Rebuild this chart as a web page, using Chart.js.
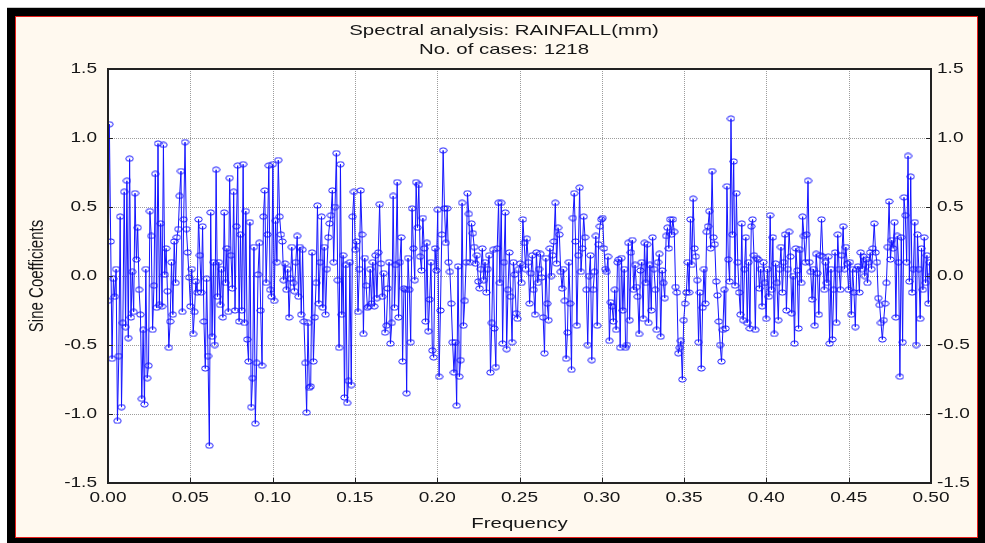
<!DOCTYPE html>
<html>
<head>
<meta charset="utf-8">
<script src="https://cdn.jsdelivr.net/npm/chart.js@4.4.1/dist/chart.umd.min.js"></script>
<style>
html, body { margin: 0; padding: 0; background: #ffffff; }
#page { position: relative; width: 985px; height: 543px; overflow: hidden; }
#topline { position: absolute; left: 7px; top: 7px; width: 978px; height: 1px; background: #c8c8c8; }
#frame { position: absolute; left: 7px; top: 8px; width: 978px; height: 535px; background: #000; }
#panel { position: absolute; left: 15px; top: 16px; width: 963px; height: 522px; box-sizing: border-box; border: 1px solid #e8201c; background: #fff9ef; }
#wrap { position: absolute; left: 0; top: 0; width: 985px; height: 543px; }
</style>
</head>
<body>
<div id="page">
  <div id="topline"></div>
  <div id="frame"></div>
  <div id="panel"></div>
  <div id="wrap"><canvas id="c"></canvas></div>
</div>
<script>
// ---------------- data ----------------
const chartTitle = ['Spectral analysis: RAINFALL(mm)', 'No. of cases: 1218'];
const xAxisTitle = 'Frequency';
const yAxisTitle = 'Sine Coefficients';
const numberOfCases = 1218;
const xTickValues = [0.00, 0.05, 0.10, 0.15, 0.20, 0.25, 0.30, 0.35, 0.40, 0.45, 0.50];
const yTickValues = [-1.5, -1.0, -0.5, 0.0, 0.5, 1.0, 1.5];

// sine coefficients, one band of frequencies per array (0.05 wide)
const sineBand1 = [-0.18, 1.10, 0.25, -0.60, -0.02, -0.15, 0.05, -1.05, -0.58, 0.43,
  -0.95, -0.34, 0.61, -0.37, 0.69, -0.45, 0.85, -0.30, 0.03, -0.26,
  0.60, 0.12, 0.35, -0.10, -0.28, -0.89, -0.39, -0.93, 0.05, -0.74,
  -0.65, 0.47, 0.29, -0.39, -0.07, 0.74, -0.23, 0.96, -0.21, 0.38,
  -0.22, 0.95, 0.01, 0.20, -0.11, -0.52, -0.33, 0.10, -0.28, 0.25,
  -0.05, 0.28, 0.34, 0.58, 0.76, -0.26, 0.41, 0.97, 0.34, 0.17,
  -0.01];
const sineBand2 = [-0.22, 0.05, -0.42, -0.26, -0.04, -0.12, 0.41, 0.15, -0.12, 0.36,
  -0.33, -0.67, -0.02, -0.58, -1.23, 0.46, -0.44, 0.10, -0.50, 0.77,
  -0.15, 0.10, -0.21, 0.05, -0.30, 0.46, -0.05, 0.20, -0.26, 0.71,
  0.15, -0.09, 0.61, -0.25, 0.36, 0.80, -0.33, 0.30, -0.25, 0.81,
  -0.34, 0.47, -0.46, -0.62, 0.39, -0.95, -0.74, 0.21, -1.07, -0.63,
  0.01, 0.24, -0.25, -0.65, 0.43, 0.62, -0.05, 0.30, 0.80, -0.10,
  -0.15];
const sineBand3 = [0.81, -0.18, 0.40, 0.10, 0.84, 0.43, 0.30, 0.25, -0.03, 0.09,
  -0.10, 0.05, -0.30, -0.02, 0.21, -0.05, -0.11, 0.10, 0.29, -0.15,
  0.21, -0.28, 0.19, -0.33, -0.63, -0.99, -0.34, -0.81, -0.80, 0.17,
  -0.62, -0.30, -0.05, 0.51, -0.20, 0.10, 0.43, -0.23, 0.21, -0.28,
  0.05, 0.28, 0.38, 0.44, 0.62, 0.10, 0.50, 0.89, -0.03, -0.52,
  0.81, -0.28, 0.15, -0.88, 0.08, -0.92, -0.76, 0.10, -0.79, 0.43,
  0.61];
const sineBand4 = [0.19, 0.25, -0.26, 0.05, 0.62, 0.30, -0.42, 0.13, -0.07, -0.23,
  -0.22, 0.05, -0.20, 0.10, -0.22, 0.15, -0.16, 0.17, 0.52, 0.09,
  -0.15, 0.02, -0.41, -0.36, -0.09, 0.10, -0.49, -0.34, 0.58, -0.23,
  0.08, 0.68, -0.30, 0.10, 0.28, -0.62, -0.09, -0.10, -0.85, 0.13,
  -0.10, -0.48, 0.49, 0.20, -0.03, 0.68, 0.35, 0.66, 0.14, 0.04,
  0.42, 0.20, -0.33, 0.24, -0.40, -0.17, 0.10, -0.54, -0.59, 0.20,
  0.04];
const sineBand5 = [0.48, -0.73, -0.25, 0.30, 0.91, 0.49, 0.24, 0.49, 0.10, 0.03,
  -0.20, -0.48, -0.70, -0.48, -0.94, 0.07, -0.73, -0.61, 0.53, -0.36,
  -0.18, 0.10, 0.60, 0.45, 0.10, 0.38, 0.31, 0.21, 0.09, 0.15,
  -0.04, -0.09, 0.05, 0.20, -0.03, 0.10, -0.12, 0.05, 0.15, -0.70,
  -0.34, 0.19, -0.38, -0.66, 0.20, 0.53, -0.05, 0.53, -0.49, 0.10,
  0.46, -0.53, -0.10, 0.17, -0.15, -0.48, 0.10, 0.01, -0.27, -0.31,
  0.05];
const sineBand6 = [0.09, -0.05, 0.41, 0.24, 0.05, 0.27, 0.10, -0.20, 0.02, 0.15,
  -0.10, -0.28, 0.17, -0.05, 0.05, 0.16, -0.01, -0.30, -0.56, 0.13,
  -0.20, -0.32, 0.20, 0.00, 0.15, 0.25, 0.53, 0.09, 0.35, 0.30,
  0.03, -0.09, 0.05, -0.18, -0.60, -0.41, 0.10, -0.20, -0.68, 0.42,
  0.60, 0.25, -0.36, 0.15, 0.64, 0.03, 0.20, 0.43, 0.28, -0.10,
  -0.50, 0.00, 0.15, -0.61, -0.10, 0.03, 0.29, -0.36, 0.23, 0.36,
  0.41];
const sineBand7 = [0.42, 0.20, 0.05, 0.03, 0.14, -0.47, -0.19, -0.22, -0.33, -0.10,
  -0.39, 0.10, 0.12, -0.52, 0.13, -0.25, 0.05, -0.52, -0.50, 0.24,
  -0.32, 0.17, 0.26, -0.10, 0.08, -0.08, -0.15, -0.42, 0.04, 0.10,
  -0.31, 0.24, -0.05, 0.23, -0.34, 0.08, -0.25, 0.28, 0.05, -0.10,
  -0.39, 0.10, 0.16, -0.44, 0.04, -0.05, -0.16, 0.29, 0.35, 0.20,
  0.41, 0.30, 0.41, 0.32, -0.08, -0.12, -0.56, -0.52, -0.47, -0.75,
  -0.32];
const sineBand8 = [-0.20, -0.12, 0.10, -0.12, 0.41, 0.08, 0.56, 0.20, 0.14, -0.03,
  -0.48, -0.12, -0.67, -0.23, 0.05, -0.20, 0.32, 0.36, 0.47, 0.20,
  0.76, 0.28, 0.23, -0.04, -0.14, -0.33, -0.50, -0.62, -0.39, -0.10,
  -0.38, 0.65, 0.12, -0.04, 1.14, 0.30, 0.83, -0.07, 0.60, 0.10,
  -0.12, -0.28, 0.38, -0.32, 0.05, 0.28, -0.34, 0.10, -0.38, 0.36,
  0.41, 0.15, -0.39, 0.13, 0.12, -0.09, 0.05, -0.22, 0.10, -0.05,
  -0.31];
const sineBand9 = [0.05, -0.15, 0.44, -0.10, 0.28, -0.42, 0.09, -0.05, -0.32, 0.05,
  0.21, -0.12, 0.10, 0.30, -0.25, 0.05, 0.32, 0.14, -0.27, 0.00,
  -0.49, 0.20, 0.04, -0.38, 0.19, -0.05, 0.43, 0.29, 0.10, 0.30,
  0.69, 0.10, 0.03, -0.17, 0.05, -0.36, 0.16, 0.02, -0.28, 0.15,
  0.41, 0.14, -0.10, 0.10, -0.05, 0.14, -0.49, 0.05, -0.46, -0.10,
  0.17, -0.34, 0.30, 0.05, -0.10, 0.15, 0.36, 0.05, 0.21, 0.09,
  -0.10];
const sineBand10 = [0.10, -0.28, 0.05, -0.12, -0.37, 0.05, 0.07, -0.12, 0.17, 0.05,
  0.14, 0.00, 0.12, -0.05, 0.10, 0.17, 0.05, 0.20, 0.38, 0.17,
  0.10, -0.16, -0.21, -0.34, -0.46, -0.32, -0.20, -0.05, 0.21, 0.54,
  0.12, 0.26, 0.20, 0.39, -0.30, 0.29, 0.10, -0.73, 0.28, -0.48,
  0.57, 0.44, 0.10, 0.87, -0.04, 0.72, -0.12, 0.05, 0.39, -0.50,
  0.30, 0.05, -0.31, 0.20, -0.10, 0.28, -0.05, 0.15, -0.20, 0.10,
  0.00];

const sineCoefficients = [].concat(sineBand1, sineBand2, sineBand3, sineBand4, sineBand5,
  sineBand6, sineBand7, sineBand8, sineBand9, sineBand10);
// Fourier frequencies k / N
const frequencies = sineCoefficients.map((_, k) => k / numberOfCases);

// ---------------- styling ----------------
const FONT = "'Liberation Sans', Arial, sans-serif";
const TEXT_COLOR = '#161616';
const LINE_COLOR = '#1414ff';
const GRID_COLOR = '#9c9c9c';
const TEXT_STRETCH = 1.36;   // the reference picture is stretched horizontally

const canvas = document.getElementById('c');
const ctx = canvas.getContext('2d');
const nativeFillText = ctx.fillText;
ctx.fillText = function (text, x, y, maxWidth) {
  const t = this.getTransform();
  const px = t.a * x + t.c * y + t.e;
  this.save();
  this.setTransform(TEXT_STRETCH, 0, 0, 1, px - TEXT_STRETCH * px, 0);
  this.transform(t.a, t.b, t.c, t.d, t.e, t.f);
  if (maxWidth === undefined || maxWidth === null || isNaN(maxWidth)) {
    nativeFillText.call(this, text, x, y);
  } else {
    nativeFillText.call(this, text, x, y, maxWidth);
  }
  this.restore();
};

// elliptical open marker (stretched circle, as in the picture)
const marker = document.createElement('canvas');
marker.width = 9; marker.height = 7;
(function () {
  const m = marker.getContext('2d');
  m.strokeStyle = LINE_COLOR;
  m.lineWidth = 1;
  m.beginPath();
  m.ellipse(4.5, 3.5, 3.7, 2.6, 0, 0, Math.PI * 2);
  m.stroke();
})();

// dotted grid drawn as small rectangles (one per dot) at the scale's tick pixels
function drawDottedGrid(chart) {
  const { ctx: c, chartArea: a, scales } = chart;
  c.save();
  c.fillStyle = GRID_COLOR;
  const top = Math.round(a.top), bottom = Math.round(a.bottom);
  const left = Math.round(a.left), right = Math.round(a.right);
  xTickValues.forEach(v => {
    const x = Math.round(scales.x.getPixelForValue(v));
    for (let y = top; y < bottom; y += 2) c.fillRect(x, y, 1, 1);
  });
  yTickValues.forEach(v => {
    const y = Math.round(scales.y.getPixelForValue(v));
    for (let x = left; x < right; x += 2) c.fillRect(x, y, 1, 1);
  });
  c.restore();
}

const framePlugin = {
  id: 'plotFrame',
  beforeDraw(chart) {
    const { ctx: c, chartArea: a } = chart;
    c.save();
    c.fillStyle = '#ffffff';
    c.fillRect(a.left, a.top, a.right - a.left, a.bottom - a.top);
    c.restore();
  },
  beforeDatasetsDraw(chart) {
    drawDottedGrid(chart);
  },
  afterDraw(chart) {
    const { ctx: c, chartArea: a, scales } = chart;
    c.save();
    c.fillStyle = '#222222';
    const L = Math.round(a.left), R = Math.round(a.right), T = Math.round(a.top), B = Math.round(a.bottom);
    // frame
    c.fillRect(L - 1, T - 1, R - L + 2, 2);
    c.fillRect(L - 1, B - 1, R - L + 2, 2);
    c.fillRect(L - 1, T - 1, 2, B - T + 2);
    c.fillRect(R - 1, T - 1, 2, B - T + 2);
    // inner tick marks
    xTickValues.forEach(v => {
      const x = Math.round(scales.x.getPixelForValue(v));
      c.fillRect(x, B - 5, 1, 5);
    });
    yTickValues.forEach(v => {
      const y = Math.round(scales.y.getPixelForValue(v));
      c.fillRect(L, y, 5, 1);
      c.fillRect(R - 5, y, 5, 1);
    });
    c.restore();
  }
};

const tickFont = { family: FONT, size: 14 };

new Chart(ctx, {
  type: 'line',
  data: {
    datasets: [{
      label: 'Sine Coefficients',
      data: frequencies.map((f, i) => ({ x: f, y: sineCoefficients[i] })),
      borderColor: LINE_COLOR,
      borderWidth: 1,
      pointStyle: marker,
      pointRadius: 3.5,
      pointHoverRadius: 3.5,
      tension: 0,
      fill: false,
      yAxisID: 'y'
    }]
  },
  options: {
    responsive: true,
    maintainAspectRatio: false,
    animation: false,
    devicePixelRatio: 1,
    events: [],
    layout: { padding: { left: 23, right: 0, top: 0, bottom: 0 } },
    plugins: {
      legend: { display: false },
      tooltip: { enabled: false },
      title: {
        display: true,
        text: chartTitle,
        color: TEXT_COLOR,
        font: { family: FONT, size: 15, weight: 'normal', lineHeight: '19px' },
        padding: { top: 21.5, bottom: 9.5 }
      }
    },
    scales: {
      x: {
        type: 'linear', position: 'bottom', min: 0, max: 0.5,
        afterBuildTicks: s => { s.ticks = xTickValues.map(v => ({ value: v })); },
        afterFit: s => { s.height = 60; },
        ticks: { callback: v => Number(v).toFixed(2), color: TEXT_COLOR, font: tickFont, padding: 7, maxRotation: 0, autoSkip: false },
        grid: { display: false, drawTicks: false },
        border: { display: false },
        title: { display: true, text: xAxisTitle, color: TEXT_COLOR, font: { family: FONT, size: 15 }, padding: { top: 0, bottom: 10 } }
      },
      y: {
        type: 'linear', position: 'left', min: -1.5, max: 1.5,
        afterBuildTicks: s => { s.ticks = yTickValues.map(v => ({ value: v })); },
        afterFit: s => { s.width = 85; },
        ticks: { callback: v => Number(v).toFixed(1), color: TEXT_COLOR, font: tickFont, padding: 11 },
        grid: { display: false, drawTicks: false },
        border: { display: false },
        title: { display: true, text: yAxisTitle, color: TEXT_COLOR, font: { family: FONT, size: 15 }, padding: { top: 5, bottom: 0 } }
      },
      yRight: {
        type: 'linear', position: 'right', min: -1.5, max: 1.5,
        afterBuildTicks: s => { s.ticks = yTickValues.map(v => ({ value: v })); },
        afterFit: s => { s.width = 54; },
        ticks: { callback: v => Number(v).toFixed(1), color: TEXT_COLOR, font: tickFont, padding: 6 },
        grid: { display: false, drawTicks: false },
        border: { display: false }
      }
    }
  },
  plugins: [framePlugin]
});
</script>
</body>
</html>
